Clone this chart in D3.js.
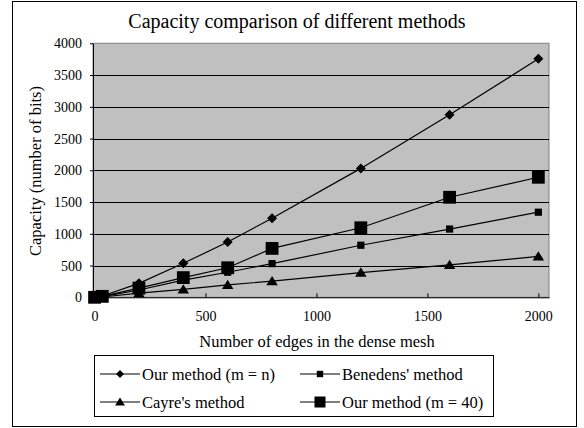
<!DOCTYPE html>
<html>
<head>
<meta charset="utf-8">
<script src="https://cdn.jsdelivr.net/npm/d3@7"></script>
<style>
  html, body { margin: 0; padding: 0; background: #fff; }
  text { font-family: "Liberation Serif", "Times New Roman", serif; fill: #000; }
</style>
</head>
<body>
<div id="playground"></div>
<script>
// edges in the dense mesh
const edges = [0, 35, 200, 400, 600, 800, 1200, 1600, 2000];

// capacity (bits) per method
const our_mn     = [0, 20, 220, 535, 870, 1245, 2030, 2875, 3755];
const benedens   = [0, 10, 115, 270, 395, 530, 820, 1075, 1340];
const cayre      = [0, 5, 65, 125, 195, 255, 390, 510, 645];
const our_m40    = [0, 15, 145, 310, 465, 770, 1095, 1575, 1890];

const x_ticks = [0, 500, 1000, 1500, 2000];
const y_ticks = [0, 500, 1000, 1500, 2000, 2500, 3000, 3500, 4000];

const series_names = ["Our method (m = n)", "Benedens' method", "Cayre's method", "Our method (m = 40)"];
const series_values = [our_mn, benedens, cayre, our_m40];
const series_markers = ['diamond', 'small-square', 'triangle', 'big-square'];

function marker_path(kind, s) {
  switch (kind) {
  case 'diamond':
    return `M0,${-s}L${s},0L0,${s}L${-s},0Z`;
  case 'triangle':
    return `M0,${-s}L${s * 1.1},${s * 0.8}L${-s * 1.1},${s * 0.8}Z`;
  default:
    return `M${-s},${-s}H${s}V${s}H${-s}Z`;
  }
}

const chart_marker_size = { 'diamond': 5, 'small-square': 3.6, 'triangle': 5.2, 'big-square': 6.4 };
const legend_marker_size = { 'diamond': 4, 'small-square': 3.2, 'triangle': 4.5, 'big-square': 5.5 };

function style_axis(g) {
  g.attr('font-family', '"Liberation Serif", "Times New Roman", serif')
    .attr('font-size', 14);
  g.select('.domain').attr('stroke', '#000');
  g.selectAll('text').attr('fill', '#000');
}

function draw_chart() {
  const width = 584;
  const height = 428;

  const svg = d3.select('#playground').append('svg')
        .attr('width', width)
        .attr('height', height);

  // outer frame
  svg.append('rect')
    .attr('x', 12.5).attr('y', 1.5)
    .attr('width', 564).attr('height', 425)
    .attr('fill', '#fff')
    .attr('stroke', '#000')
    .attr('stroke-width', 1);

  const x = d3.scaleLinear()
        .domain([-7, 2048])
        .range([93, 549]);

  const y = d3.scaleLinear()
        .domain([0, 4000])
        .range([297.3, 43.3]);

  // plot area
  svg.append('rect')
    .attr('x', x.range()[0])
    .attr('y', y.range()[1])
    .attr('width', x.range()[1] - x.range()[0])
    .attr('height', y.range()[0] - y.range()[1])
    .attr('fill', '#c0c0c0')
    .attr('stroke', '#808080')
    .attr('stroke-width', 1);

  // gridlines
  svg.append('g')
    .selectAll('line')
    .data(y_ticks.filter(d => d > 0 && d < 4000))
    .enter().append('line')
    .attr('x1', x.range()[0]).attr('x2', x.range()[1])
    .attr('y1', d => Math.round(y(d)) + 0.5)
    .attr('y2', d => Math.round(y(d)) + 0.5)
    .attr('stroke', '#000')
    .attr('stroke-width', 1);

  // y axis
  svg.append('g')
    .attr('transform', `translate(${x.range()[0]},0)`)
    .call(d3.axisLeft(y).tickValues(y_ticks).tickFormat(d3.format('d'))
          .tickSize(3).tickPadding(8).tickSizeOuter(0))
    .call(style_axis);

  // x axis, ticks pointing into the plot
  svg.append('g')
    .attr('transform', `translate(0,${y.range()[0]})`)
    .call(d3.axisBottom(x).tickValues(x_ticks).tickFormat(d3.format('d'))
          .tickSize(-4).tickPadding(14).tickSizeOuter(0))
    .call(style_axis);

  const line = d3.line()
        .x((d, i) => x(edges[i]))
        .y(d => y(d));

  series_values.forEach((vals, k) => {
    const g = svg.append('g');

    g.append('path')
      .attr('d', line(vals))
      .attr('fill', 'none')
      .attr('stroke', '#000')
      .attr('stroke-width', 1.2);

    g.selectAll('path.marker')
      .data(vals)
      .enter().append('path')
      .attr('class', 'marker')
      .attr('d', marker_path(series_markers[k], chart_marker_size[series_markers[k]]))
      .attr('transform', (d, i) => `translate(${x(edges[i])},${y(d)})`)
      .attr('fill', '#000');
  });

  // title and axis labels
  svg.append('text')
    .attr('x', 297).attr('y', 28)
    .attr('text-anchor', 'middle')
    .style('font-size', '20px')
    .text('Capacity comparison of different methods');

  svg.append('text')
    .attr('x', 317).attr('y', 347)
    .attr('text-anchor', 'middle')
    .style('font-size', '16.5px')
    .text('Number of edges in the dense mesh');

  svg.append('text')
    .attr('transform', 'translate(41,171) rotate(-90)')
    .attr('text-anchor', 'middle')
    .style('font-size', '16.5px')
    .text('Capacity (number of bits)');

  // legend
  const legend = svg.append('g');
  legend.append('rect')
    .attr('x', 94.5).attr('y', 355.5)
    .attr('width', 399).attr('height', 61)
    .attr('fill', '#fff')
    .attr('stroke', '#000');

  const legend_pos = [[100, 374], [300, 374], [100, 402], [300, 402]];

  series_names.forEach((name, k) => {
    const [lx, ly] = legend_pos[k];
    const item = legend.append('g').attr('transform', `translate(${lx},${ly})`);
    item.append('line')
      .attr('x1', 0).attr('x2', 40)
      .attr('y1', 0).attr('y2', 0)
      .attr('stroke', '#000')
      .attr('stroke-width', 1.2);
    item.append('path')
      .attr('d', marker_path(series_markers[k], legend_marker_size[series_markers[k]]))
      .attr('transform', 'translate(20,0)')
      .attr('fill', '#000');
    item.append('text')
      .attr('x', 42).attr('y', 6)
      .style('font-size', '16.5px')
      .text(name);
  });
}

draw_chart();
</script>
</body>
</html>
